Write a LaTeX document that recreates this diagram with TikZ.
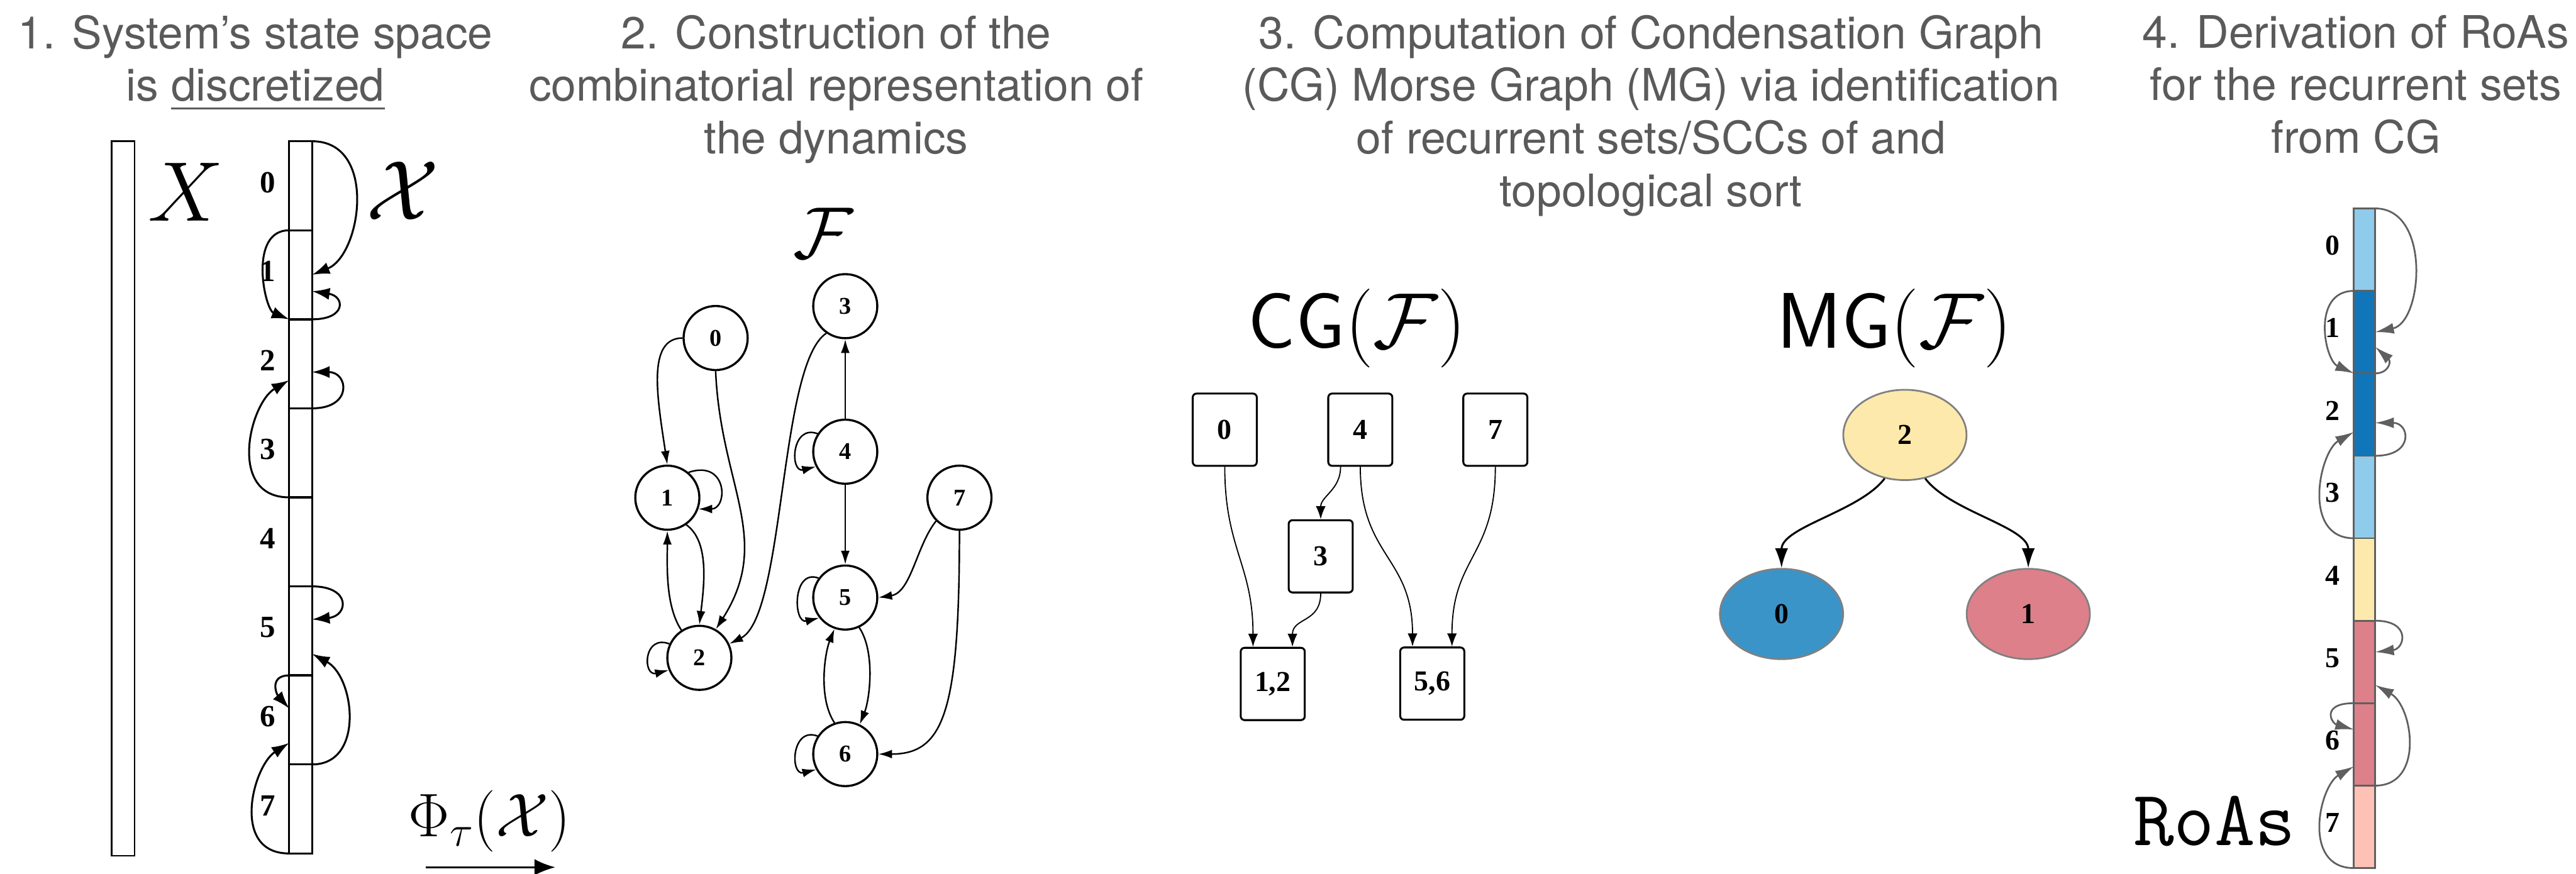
\RequirePackage{fix-cm}
\documentclass[tikz,border=0pt]{standalone}
\usepackage{fontspec}
\usepackage{amsmath}
\usepackage{tikz}
\usetikzlibrary{arrows.meta, positioning, calc, shapes.geometric}

\newfontfamily\headfont{TeX Gyre Heros}
\newfontfamily\numfont{Liberation Serif}

\definecolor{headgray}{HTML}{5A5A5A}
\definecolor{edgegray}{HTML}{5F5F5F}
\definecolor{roalight}{HTML}{8FCBEB}
\definecolor{roadark}{HTML}{1176B9}
\definecolor{roayellow}{HTML}{FDE9AB}
\definecolor{roared}{HTML}{DD808A}
\definecolor{roapink}{HTML}{FDC1B6}
\definecolor{mgblue}{HTML}{3A94C8}

\begin{document}
\begin{tikzpicture}[
        x=0.03cm, y=0.03cm,
        heading/.style={
            anchor=north,
            align=center,
            inner sep=0pt,
            text=headgray,
            font=\headfont\fontsize{23.3}{27.3}\selectfont
        },
        bigmath/.style={
            inner sep=0pt,
            font=\fontsize{44}{50}\selectfont
        },
        cellx/.style={
            draw,
            line width=1.1pt,
            minimum width=0.42cm,
            minimum height=1.626cm,
            inner sep=0pt,
            outer sep=0pt
        },
        cellroa/.style={
            draw=edgegray,
            line width=0.9pt,
            minimum width=0.39cm,
            minimum height=1.506cm,
            inner sep=0pt,
            outer sep=0pt
        },
        cellnum/.style={
            inner sep=0pt,
            font=\numfont\bfseries\fontsize{16}{16}\selectfont
        },
        fnode/.style={
            draw,
            circle,
            line width=1.1pt,
            minimum size=1.17cm,
            inner sep=0pt,
            font=\numfont\bfseries\fontsize{12.5}{12.5}\selectfont
        },
        sccbox/.style={
            draw,
            rounded corners=2pt,
            line width=1pt,
            minimum width=1.17cm,
            minimum height=1.32cm,
            inner sep=0pt,
            font=\numfont\bfseries\fontsize{15}{15}\selectfont
        },
        morse/.style={
            draw=gray,
            ellipse,
            line width=0.9pt,
            minimum width=2.25cm,
            minimum height=1.65cm,
            inner sep=0pt,
            font=\numfont\bfseries\fontsize{15}{15}\selectfont
        },
        maparrow/.style={
            -{Latex[length=0.32cm, width=0.22cm]},
            line width=1pt
        },
        roaarrow/.style={
            -{Latex[length=0.34cm, width=0.2cm]},
            draw=edgegray,
            line width=0.9pt
        },
        graphedge/.style={
            -{Latex[length=0.25cm, width=0.16cm]},
            line width=0.8pt
        },
        cgedge/.style={
            -{Latex[length=0.24cm, width=0.18cm]},
            line width=0.6pt
        },
        mgedge/.style={
            -{Latex[length=0.36cm, width=0.24cm]},
            line width=1pt
        }
    ]

    \useasboundingbox (0,0) rectangle (1568,-532);
    \fill[white] (0,0) rectangle (1568,-532);

    % headings
    \node[heading] (head1) at (155.5,-9)
    {1. System’s state space\\ is \underline{discretized}};
    \node[heading] (head2) at (509,-9)
    {2. Construction of the\\ combinatorial representation of\\ the dynamics};
    \node[heading] (head3) at (1005,-9)
    {3. Computation of Condensation Graph\\ (CG) Morse Graph (MG) via identification\\ of recurrent sets/SCCs of and\\ topological sort};
    \node[heading] (head4) at (1434,-9)
    {4. Derivation of RoAs\\ for the recurrent sets\\ from CG};

    % state space and its cells
    \node[draw, line width=0.8pt, minimum width=0.42cm, minimum height=13.05cm, inner sep=0pt] (xbar) at (75,-303.5) {};
    \node[bigmath] (xlab) at (113,-117) {$X$};
    \foreach \k in {0,...,7} {
        \node[cellx] (x\k) at (183,{-113.1-54.2*\k}) {};
        \node[cellnum] at (163,{-111-54.2*\k}) {\k};
    }
    \node[bigmath] (xcal) at (245,-116) {$\mathcal{X}$};

    \draw[maparrow] (x0.north east) .. controls +(40,0) and +(30,12) .. (x1.east);
    \draw[maparrow] (x1.south east) .. controls +(21,0) and +(20,-3) .. ($(x1.east)+(0,-10)$);
    \draw[maparrow] (x1.north west) .. controls +(-25,0) and +(-15,6) .. (x1.south west);
    \draw[maparrow] (x2.south east) .. controls +(25,0) and +(22,0) .. ($(x2.east)+(0,-5)$);
    \draw[maparrow] (x3.south west) .. controls +(-38,0) and +(-24,-14) .. ($(x2.west)+(0,-10)$);
    \draw[maparrow] (x5.north east) .. controls +(24,0) and +(22,2) .. ($(x5.east)+(0,7)$);
    \draw[maparrow] (x6.south east) .. controls +(32,0) and +(26,-14) .. ($(x5.east)+(0,-14)$);
    \draw[maparrow] (x6.north west) .. controls +(-12,0) and +(-8,9) .. ($(x6.west)+(0,7)$);
    \draw[maparrow] (x7.south west) .. controls +(-36,0) and +(-22,-14) .. ($(x6.west)+(0,-14)$);

    \node[inner sep=0pt, font=\fontsize{32}{36}\selectfont] (phi) at (298,-500) {$\Phi_\tau(\mathcal{X})$};
    \coordinate (phistart) at (259,-528);
    \coordinate (phiend) at (338,-528);
    \draw[-{Latex[length=0.38cm, width=0.3cm]}, line width=1pt] (phistart) -- (phiend);

    % map graph F
    \node[inner sep=0pt, font=\fontsize{38}{42}\selectfont] (flab) at (501,-142) {$\mathcal{F}$};
    \node[fnode] (n0) at (435.6,-205.8) {0};
    \node[fnode] (n1) at (406.2,-303) {1};
    \node[fnode] (n2) at (425.7,-400.5) {2};
    \node[fnode] (n3) at (514.5,-186.4) {3};
    \node[fnode] (n4) at (514.5,-275) {4};
    \node[fnode] (n5) at (514.5,-363.8) {5};
    \node[fnode] (n6) at (514.5,-459.1) {6};
    \node[fnode] (n7) at (584,-303) {7};

    \draw[graphedge] (n0.west) .. controls +(-22,0) and +(-6,40) .. (n1.north);
    \draw[graphedge] (n1.50) .. controls +(24,8) and +(18,0) .. (n1.-20);
    \draw[graphedge] (n1.-55) .. controls +(14,-10) and +(3,25) .. (n2.north);
    \draw[graphedge] (n2.123) .. controls +(-10,15) and +(0,-20) .. (n1.south);
    \draw[graphedge] (n0.south) .. controls +(3,-70) and +(35,55) .. (n2.60);
    \draw[graphedge] (n3.235) .. controls (474,-222) and (478,-375) .. (n2.25);
    \draw[graphedge] (n2.155) .. controls +(-16,6) and +(-16,-4) .. (n2.202);
    \draw[graphedge] (n4.north) -- (n3.south);
    \draw[graphedge] (n4.south) -- (n5.north);
    \draw[graphedge] (n4.147) .. controls +(-16,6) and +(-16,-4) .. (n4.207);
    \draw[graphedge] (n5.144) .. controls +(-16,6) and +(-16,-4) .. (n5.218);
    \draw[graphedge] (n6.147) .. controls +(-16,6) and +(-16,-4) .. (n6.208);
    \draw[graphedge] (n5.-65) .. controls +(10,-15) and +(6,15) .. (n6.64);
    \draw[graphedge] (n6.109) .. controls +(-10,15) and +(-6,-15) .. (n5.251);
    \draw[graphedge] (n7.225) .. controls +(-12,-15) and +(20,3) .. (n5.east);
    \draw[graphedge] (n7.south) .. controls +(0,-110) and +(40,0) .. (n6.east);

    % condensation graph
    \node[inner sep=0pt, font=\fontsize{41}{46}\selectfont] (cglab) at (826,-200) {$\mathsf{CG}(\mathcal{F})$};
    \node[sccbox] (c0) at (745.5,-261.6) {0};
    \node[sccbox] (c4) at (828,-261.6) {4};
    \node[sccbox] (c7) at (910.2,-261.6) {7};
    \node[sccbox] (c3) at (803.9,-338.7) {3};
    \node[sccbox] (c12) at (774.7,-416.4) {1,2};
    \node[sccbox] (c56) at (871.8,-416.2) {5,6};

    \draw[cgedge] (c0.south) .. controls +(0,-50) and +(0,50) .. ($(c12.north)+(-12,0)$);
    \draw[cgedge] (c3.south) .. controls +(0,-18) and +(0,18) .. ($(c12.north)+(12,0)$);
    \draw[cgedge] ($(c4.south)+(-12,0)$) .. controls +(0,-14) and +(0,14) .. (c3.north);
    \draw[cgedge] (c4.south) .. controls +(0,-55) and +(0,55) .. ($(c56.north)+(-12,0)$);
    \draw[cgedge] (c7.south) .. controls +(0,-55) and +(0,55) .. ($(c56.north)+(12,0)$);

    % Morse graph
    \node[inner sep=0pt, font=\fontsize{41}{46}\selectfont] (mglab) at (1153,-200) {$\mathsf{MG}(\mathcal{F})$};
    \node[morse, fill=roayellow] (m2) at (1159.5,-264.8) {2};
    \node[morse, fill=mgblue] (m0) at (1084.4,-373.8) {0};
    \node[morse, fill=roared] (m1) at (1234.6,-373.8) {1};

    \draw[mgedge] (m2.245) .. controls +(-15,-20) and +(0,25) .. (m0.north);
    \draw[mgedge] (m2.295) .. controls +(15,-20) and +(0,25) .. (m1.north);

    % regions of attraction
    \foreach \k/\c in {0/roalight,1/roadark,2/roadark,3/roalight,4/roayellow,5/roared,6/roared,7/roapink} {
        \node[cellroa, fill=\c] (r\k) at (1439.3,{-152-50.2*\k}) {};
        \node[cellnum, font=\numfont\bfseries\fontsize{15}{15}\selectfont] at (1420,{-149.5-50.2*\k}) {\k};
    }
    \node[inner sep=0pt, font=\ttfamily\fontsize{41}{45}\selectfont] (roas) at (1348,-500) {RoAs};

    \draw[roaarrow] (r0.north east) .. controls +(34,0) and +(29,6) .. (r1.east);
    \draw[roaarrow] (r1.south east) .. controls +(8,0) and +(10,-9) .. ($(r1.east)+(0,-9)$);
    \draw[roaarrow] (r1.north west) .. controls +(-26,0) and +(-18,8) .. (r1.south west);
    \draw[roaarrow] (r2.south east) .. controls +(24,0) and +(21,0) .. ($(r2.east)+(0,-5)$);
    \draw[roaarrow] (r3.south west) .. controls +(-32,0) and +(-21,-12) .. ($(r2.west)+(0,-10.6)$);
    \draw[roaarrow] (r5.north east) .. controls +(22,0) and +(18,2) .. ($(r5.east)+(0,6)$);
    \draw[roaarrow] (r6.south east) .. controls +(30,0) and +(23,-13) .. ($(r5.east)+(0,-14)$);
    \draw[roaarrow] (r6.north west) .. controls +(-20,0) and +(-14,4) .. ($(r6.west)+(0,9)$);
    \draw[roaarrow] (r7.south west) .. controls +(-32,0) and +(-21,-12) .. ($(r6.west)+(0,-13.4)$);

\end{tikzpicture}
\end{document}
